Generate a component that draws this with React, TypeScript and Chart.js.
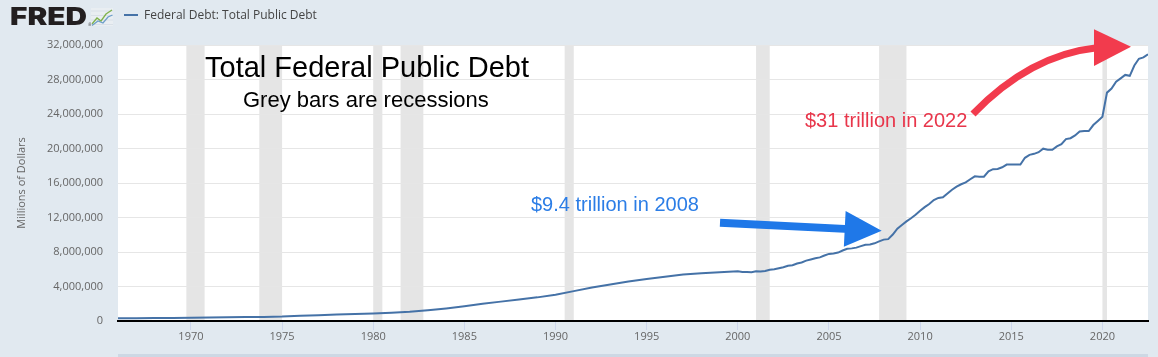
import React, { useEffect, useRef } from 'react';
import { Chart, registerables } from 'chart.js';

Chart.register(...registerables);

// ---------------- data ----------------
const SERIES_LABEL = 'Federal Debt: Total Public Debt';
const Y_AXIS_TITLE = 'Millions of Dollars';

// Observation dates (quarter start, as FRED labels them)
const DEBT_DATES = [
  '1966-01', '1967-01', '1968-01', '1969-01', '1970-01', '1971-01', '1972-01', '1973-01',
  '1974-01', '1975-01', '1976-01', '1977-01', '1978-01', '1979-01', '1980-01', '1981-01',
  '1982-01', '1983-01', '1984-01', '1985-01', '1986-01', '1987-01', '1988-01', '1989-01',
  '1990-01', '1991-01', '1992-01', '1993-01', '1994-01', '1995-01', '1996-01', '1997-01',
  '1998-01', '1999-01',
  '2000-01', '2000-04', '2000-07', '2000-10',
  '2001-01', '2001-04', '2001-07', '2001-10',
  '2002-01', '2002-04', '2002-07', '2002-10',
  '2003-01', '2003-04', '2003-07', '2003-10',
  '2004-01', '2004-04', '2004-07', '2004-10',
  '2005-01', '2005-04', '2005-07', '2005-10',
  '2006-01', '2006-04', '2006-07', '2006-10',
  '2007-01', '2007-04', '2007-07', '2007-10',
  '2008-01', '2008-04', '2008-07', '2008-10',
  '2009-01', '2009-04', '2009-07', '2009-10',
  '2010-01', '2010-04', '2010-07', '2010-10',
  '2011-01', '2011-04', '2011-07', '2011-10',
  '2012-01', '2012-04', '2012-07', '2012-10',
  '2013-01', '2013-04', '2013-07', '2013-10',
  '2014-01', '2014-04', '2014-07', '2014-10',
  '2015-01', '2015-04', '2015-07', '2015-10',
  '2016-01', '2016-04', '2016-07', '2016-10',
  '2017-01', '2017-04', '2017-07', '2017-10',
  '2018-01', '2018-04', '2018-07', '2018-10',
  '2019-01', '2019-04', '2019-07', '2019-10',
  '2020-01', '2020-04', '2020-07', '2020-10',
  '2021-01', '2021-04', '2021-07', '2021-10',
  '2022-01', '2022-04', '2022-07',
];

// Total public debt, millions of dollars
const DEBT_VALUES = [
  321000, 329000, 347500, 358000, 372000, 391700, 425400, 456000,
  472000, 509700, 599000, 681000, 758000, 815000, 879000, 970000,
  1066000, 1244000, 1463000, 1710000, 2003000, 2246000, 2494000, 2740000,
  3052000, 3465000, 3881000, 4230000, 4575000, 4864000, 5118000, 5381000,
  5542000, 5651000,
  5773000, 5686000, 5674000, 5662000,
  5774000, 5727000, 5807000, 5943000,
  6006000, 6126000, 6228000, 6406000,
  6460000, 6670000, 6783000, 6998000,
  7131000, 7274000, 7379000, 7596000,
  7777000, 7836000, 7933000, 8170000,
  8371000, 8420000, 8507000, 8680000,
  8849000, 8867000, 9008000, 9229000,
  9437000, 9492000, 10025000, 10700000,
  11127000, 11545000, 11910000, 12311000,
  12773000, 13202000, 13562000, 14025000,
  14270000, 14343000, 14790000, 15223000,
  15582000, 15856000, 16066000, 16432000,
  16771000, 16738000, 16738000, 17352000,
  17602000, 17633000, 17824000, 18141000,
  18152000, 18152000, 18151000, 18922000,
  19264000, 19381000, 19573000, 19977000,
  19846000, 19845000, 20245000, 20493000,
  21090000, 21195000, 21516000, 21974000,
  22028000, 22023000, 22719000, 23201000,
  23687000, 26477000, 26945000, 27748000,
  28133000, 28529000, 28429000, 29617000,
  30401000, 30569000, 30929000,
];

// Recession shading (quarterly)
const RECESSION_STARTS = ['1969-10', '1973-10', '1980-01', '1981-07', '1990-07', '2001-01', '2007-10', '2020-01'];
const RECESSION_ENDS = ['1970-10', '1975-01', '1980-07', '1982-10', '1991-01', '2001-10', '2009-04', '2020-04'];

const X_MIN = '1966-01';
const X_MAX = '2022-07';
const X_TICKS = [1970, 1975, 1980, 1985, 1990, 1995, 2000, 2005, 2010, 2015, 2020];
const Y_TICKS = [0, 4000000, 8000000, 12000000, 16000000, 20000000, 24000000, 28000000, 32000000];

const TITLE_TEXT = 'Total Federal Public Debt';
const SUBTITLE_TEXT = 'Grey bars are recessions';
const NOTE_2008 = '$9.4 trillion in 2008';
const NOTE_2022 = '$31 trillion in 2022';

// ---------------- helpers ----------------
const toYear = (s: string) => {
  const [y, m] = s.split('-').map(Number);
  return y + (m - 1) / 12;
};

const LINE_COLOR = '#4572a7';
const AXIS_FONT = "'Open Sans', 'DejaVu Sans', sans-serif";
const ANNOT_FONT = "'Liberation Sans', Arial, Helvetica, sans-serif";

const backgroundPlugin = {
  id: 'fredBackground',
  beforeDraw(chart: any) {
    const { ctx, chartArea: a, scales } = chart;
    const x = scales.x;
    ctx.save();
    ctx.fillStyle = '#ffffff';
    ctx.fillRect(a.left, a.top, a.right - a.left, a.bottom - a.top);
    ctx.fillStyle = '#e5e5e5';
    RECESSION_STARTS.forEach((s, i) => {
      const x0 = x.getPixelForValue(toYear(s));
      const x1 = x.getPixelForValue(toYear(RECESSION_ENDS[i]));
      ctx.fillRect(x0, a.top, x1 - x0, a.bottom - a.top);
    });
    // navigator strip at the very bottom
    ctx.fillStyle = '#cdd8e4';
    ctx.fillRect(a.left, chart.height - 3, a.right - a.left, 3);
    ctx.restore();
  },
};

function drawStraightArrow(ctx: CanvasRenderingContext2D, sx: number, sy: number, tx: number, ty: number,
  shaftHalf: number, headLen: number, headHalf: number, color: string) {
  const dx = tx - sx;
  const dy = ty - sy;
  const len = Math.hypot(dx, dy);
  const ux = dx / len;
  const uy = dy / len;
  const nx = -uy;
  const ny = ux;
  const bx = tx - ux * headLen;
  const by = ty - uy * headLen;
  ctx.beginPath();
  ctx.moveTo(sx + nx * shaftHalf, sy + ny * shaftHalf);
  ctx.lineTo(bx + nx * shaftHalf, by + ny * shaftHalf);
  ctx.lineTo(bx + nx * headHalf, by + ny * headHalf);
  ctx.lineTo(tx, ty);
  ctx.lineTo(bx - nx * headHalf, by - ny * headHalf);
  ctx.lineTo(bx - nx * shaftHalf, by - ny * shaftHalf);
  ctx.lineTo(sx - nx * shaftHalf, sy - ny * shaftHalf);
  ctx.closePath();
  ctx.fillStyle = color;
  ctx.fill();
}

const overlayPlugin = {
  id: 'fredOverlay',
  afterDraw(chart: any) {
    const ctx: CanvasRenderingContext2D = chart.ctx;
    ctx.save();

    // ---- FRED logo ----
    ctx.fillStyle = '#231f20';
    ctx.textBaseline = 'alphabetic';
    ctx.textAlign = 'left';
    ctx.font = "900 24px Inter, 'DejaVu Sans', sans-serif";
    const fw = ctx.measureText('FRED').width;
    ctx.save();
    ctx.translate(10, 25);
    ctx.scale(77 / fw, 1);
    ctx.fillText('FRED', 0, 0);
    ctx.restore();
    ctx.font = "5px 'DejaVu Sans', sans-serif";
    ctx.fillStyle = '#555';
    ctx.fillText('®', 87.5, 26);

    // small chart icon
    ctx.fillStyle = '#e9eef2';
    ctx.fillRect(91, 8, 22, 18);
    ctx.strokeStyle = '#c9d3dc';
    ctx.lineWidth = 0.5;
    for (let i = 0; i < 4; i++) {
      ctx.beginPath();
      ctx.moveTo(91, 11 + i * 4.5);
      ctx.lineTo(113, 11 + i * 4.5);
      ctx.stroke();
    }
    ctx.lineWidth = 1.3;
    ctx.strokeStyle = '#7fb24a';
    ctx.beginPath();
    ctx.moveTo(92, 24); ctx.lineTo(97, 18); ctx.lineTo(101, 21); ctx.lineTo(106, 14); ctx.lineTo(112, 10);
    ctx.stroke();
    ctx.strokeStyle = '#6e9fc9';
    ctx.beginPath();
    ctx.moveTo(92, 25.5); ctx.lineTo(98, 21); ctx.lineTo(103, 23); ctx.lineTo(108, 17); ctx.lineTo(112.5, 15);
    ctx.stroke();

    // ---- legend ----
    ctx.strokeStyle = LINE_COLOR;
    ctx.lineWidth = 2;
    ctx.beginPath();
    ctx.moveTo(124, 15);
    ctx.lineTo(138, 15);
    ctx.stroke();
    ctx.fillStyle = '#444';
    ctx.font = `12px ${AXIS_FONT}`;
    ctx.textBaseline = 'middle';
    ctx.fillText(SERIES_LABEL, 144, 15.5);

    // ---- annotations ----
    ctx.textBaseline = 'alphabetic';
    ctx.fillStyle = '#000';
    ctx.font = `29px ${ANNOT_FONT}`;
    ctx.fillText(TITLE_TEXT, 205, 77);
    ctx.font = `22px ${ANNOT_FONT}`;
    ctx.fillText(SUBTITLE_TEXT, 243, 107);

    ctx.font = `20px ${ANNOT_FONT}`;
    ctx.fillStyle = '#2b7de6';
    ctx.fillText(NOTE_2008, 531, 211);
    ctx.fillStyle = '#e8364b';
    ctx.fillText(NOTE_2022, 805, 127);

    // blue arrow
    drawStraightArrow(ctx, 720, 222.7, 881.7, 230.7, 4, 37, 18, '#1f78e8');

    // red curved arrow
    ctx.strokeStyle = '#f23b4d';
    ctx.lineWidth = 7;
    ctx.lineCap = 'butt';
    ctx.beginPath();
    ctx.moveTo(973, 114);
    ctx.quadraticCurveTo(1030, 55, 1097, 47.8);
    ctx.stroke();
    ctx.fillStyle = '#f23b4d';
    ctx.beginPath();
    ctx.moveTo(1094, 29.3);
    ctx.lineTo(1131, 46.7);
    ctx.lineTo(1094, 66);
    ctx.closePath();
    ctx.fill();

    ctx.restore();
  },
};

export default function App() {
  const canvasRef = useRef<HTMLCanvasElement>(null);

  useEffect(() => {
    const points = DEBT_DATES.map((d, i) => ({ x: toYear(d), y: DEBT_VALUES[i] }));
    const chart = new Chart(canvasRef.current as HTMLCanvasElement, {
      type: 'line',
      data: {
        datasets: [
          {
            label: SERIES_LABEL,
            data: points,
            borderColor: LINE_COLOR,
            borderWidth: 2,
            pointRadius: 0,
            tension: 0,
            fill: false,
          },
        ],
      },
      options: {
        animation: false,
        responsive: false,
        maintainAspectRatio: false,
        devicePixelRatio: 1,
        events: [],
        layout: { padding: { top: 45, right: 10, left: 0, bottom: 0 } },
        plugins: {
          legend: { display: false },
          tooltip: { enabled: false },
        },
        scales: {
          x: {
            type: 'linear',
            min: toYear(X_MIN),
            max: toYear(X_MAX),
            afterBuildTicks: (scale: any) => {
              scale.ticks = X_TICKS.map((v) => ({ value: v }));
            },
            afterFit: (scale: any) => {
              scale.height = 36;
            },
            ticks: {
              autoSkip: false,
              maxRotation: 0,
              padding: 0,
              color: '#666',
              font: { family: AXIS_FONT, size: 11 },
              callback: (v: any) => String(v),
            },
            grid: {
              drawOnChartArea: false,
              drawTicks: true,
              tickLength: 9,
              color: '#ccd6eb',
              tickColor: '#ccd6eb',
            },
            border: { display: true, color: '#000', width: 2 },
          },
          y: {
            type: 'linear',
            min: 0,
            max: 32000000,
            afterBuildTicks: (scale: any) => {
              scale.ticks = Y_TICKS.map((v) => ({ value: v }));
            },
            afterFit: (scale: any) => {
              scale.width = 118;
            },
            ticks: {
              padding: 15,
              color: '#666',
              font: { family: AXIS_FONT, size: 11 },
              callback: (v: any) => Number(v).toLocaleString('en-US'),
            },
            grid: {
              color: '#e6e6e6',
              lineWidth: 1,
              drawTicks: false,
            },
            border: { display: false },
            title: {
              display: true,
              text: Y_AXIS_TITLE,
              color: '#666',
              font: { family: AXIS_FONT, size: 11 },
              padding: { top: 15, bottom: 0 },
            },
          },
        },
      },
      plugins: [backgroundPlugin, overlayPlugin],
    } as any);
    return () => chart.destroy();
  }, []);

  return (
    <div
      style={{
        position: 'fixed',
        left: 0,
        top: 0,
        width: 1158,
        height: 357,
        background: '#e1e9f0',
      }}
    >
      <canvas ref={canvasRef} width={1158} height={357} style={{ display: 'block' }} />
    </div>
  );
}
